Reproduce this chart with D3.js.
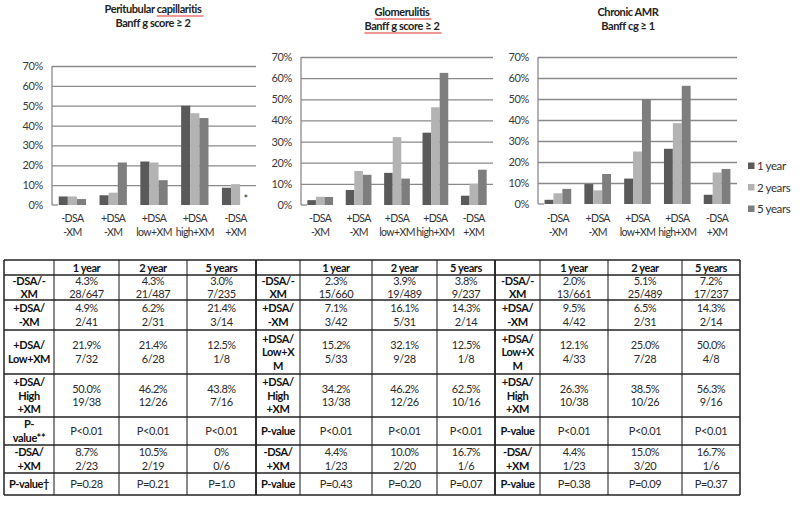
<!DOCTYPE html>
<html>
<head>
<meta charset="utf-8">
<script src="https://cdn.jsdelivr.net/npm/d3@7"></script>
<style>
  html, body { margin: 0; padding: 0; background: #fff; }
  svg { display: block; font-family: Lato, "Open Sans", sans-serif; letter-spacing: -0.4px; }
</style>
</head>
<body>
<svg id="chart" width="800" height="508"></svg>
<script>
// ---------- DATA ----------
const categories = [["-DSA", "-XM"], ["+DSA", "-XM"], ["+DSA", "low+XM"], ["+DSA", "high+XM"], ["-DSA", "+XM"]];
const seriesNames = ["1 year", "2 years", "5 years"];
const yTicks = [0, 10, 20, 30, 40, 50, 60, 70];

const ptc1yr = [4.3, 4.9, 21.9, 50.0, 8.7];
const ptc2yr = [4.3, 6.2, 21.4, 46.2, 10.5];
const ptc5yr = [3.0, 21.4, 12.5, 43.8, 0];

const glom1yr = [2.3, 7.1, 15.2, 34.2, 4.4];
const glom2yr = [3.9, 16.1, 32.1, 46.2, 10.0];
const glom5yr = [3.8, 14.3, 12.5, 62.5, 16.7];

const camr1yr = [2.0, 9.5, 12.1, 26.3, 4.4];
const camr2yr = [5.1, 6.5, 25.0, 38.5, 15.0];
const camr5yr = [7.2, 14.3, 50.0, 56.3, 16.7];

const chartTitles = [
  ["Peritubular capillaritis", "Banff g score \u2265 2"],
  ["Glomerulitis", "Banff g score \u2265 2"],
  ["Chronic AMR", "Banff cg \u2265 1"]
];

// Table
const tableHeader = ["1 year", "2 year", "5 years"];
const rowLabels1 = [["-DSA/-", "XM"], ["+DSA/", "-XM"], ["+DSA/", "Low+XM"], ["+DSA/", "High", "+XM"], ["P-", "value**"], ["-DSA/", "+XM"], ["P-value\u2020"]];
const rowLabels23 = [["-DSA/-", "XM"], ["+DSA/", "-XM"], ["+DSA/", "Low+X", "M"], ["+DSA/", "High", "+XM"], ["P-value"], ["-DSA/", "+XM"], ["P-value"]];

const ptcTable = [
  [["4.3%", "28/647"], ["4.3%", "21/487"], ["3.0%", "7/235"]],
  [["4.9%", "2/41"], ["6.2%", "2/31"], ["21.4%", "3/14"]],
  [["21.9%", "7/32"], ["21.4%", "6/28"], ["12.5%", "1/8"]],
  [["50.0%", "19/38"], ["46.2%", "12/26"], ["43.8%", "7/16"]],
  [["P<0.01"], ["P<0.01"], ["P<0.01"]],
  [["8.7%", "2/23"], ["10.5%", "2/19"], ["0%", "0/6"]],
  [["P=0.28"], ["P=0.21"], ["P=1.0"]]
];
const glomTable = [
  [["2.3%", "15/660"], ["3.9%", "19/489"], ["3.8%", "9/237"]],
  [["7.1%", "3/42"], ["16.1%", "5/31"], ["14.3%", "2/14"]],
  [["15.2%", "5/33"], ["32.1%", "9/28"], ["12.5%", "1/8"]],
  [["34.2%", "13/38"], ["46.2%", "12/26"], ["62.5%", "10/16"]],
  [["P<0.01"], ["P<0.01"], ["P<0.01"]],
  [["4.4%", "1/23"], ["10.0%", "2/20"], ["16.7%", "1/6"]],
  [["P=0.43"], ["P=0.20"], ["P=0.07"]]
];
const camrTable = [
  [["2.0%", "13/661"], ["5.1%", "25/489"], ["7.2%", "17/237"]],
  [["9.5%", "4/42"], ["6.5%", "2/31"], ["14.3%", "2/14"]],
  [["12.1%", "4/33"], ["25.0%", "7/28"], ["50.0%", "4/8"]],
  [["26.3%", "10/38"], ["38.5%", "10/26"], ["56.3%", "9/16"]],
  [["P<0.01"], ["P<0.01"], ["P<0.01"]],
  [["4.4%", "1/23"], ["15.0%", "3/20"], ["16.7%", "1/6"]],
  [["P=0.38"], ["P=0.09"], ["P=0.37"]]
];

// ---------- STYLE / LAYOUT ----------
const colors = d3.scaleOrdinal().domain(seriesNames).range(["#5a5a5a", "#b3b3b3", "#7e7e7e"]);
const svg = d3.select("#chart");
const FS = 11;

const charts = [
  { series: [ptc1yr, ptc2yr, ptc5yr], title: chartTitles[0], x0: 52, x1: 256, top: 66, bottom: 205, titleX: 153, titleY: 13, underline: [[1, "capillaritis"]], star: true },
  { series: [glom1yr, glom2yr, glom5yr], title: chartTitles[1], x0: 301, x1: 493, top: 57, bottom: 205, titleX: 402, titleY: 16, underline: [[1, null], [2, null]] },
  { series: [camr1yr, camr2yr, camr5yr], title: chartTitles[2], x0: 538, x1: 737, top: 57, bottom: 204, titleX: 628, titleY: 16, underline: [] }
];

charts.forEach(c => {
  const g = svg.append("g");
  const x = d3.scaleBand().domain(d3.range(categories.length)).range([c.x0, c.x1]).paddingInner(0.33).paddingOuter(0.165);
  const xs = d3.scaleBand().domain(seriesNames).range([0, x.bandwidth()]);
  const y = d3.scaleLinear().domain([0, 70]).range([c.bottom, c.top]);

  // gridlines
  const grid = g.append("g").attr("transform", `translate(${c.x0},0)`)
    .call(d3.axisLeft(y).tickValues(yTicks.filter(t => t > 0)).tickSize(-(c.x1 - c.x0)).tickFormat(""));
  grid.select(".domain").remove();
  grid.selectAll("line").attr("stroke", "#8a8a8a").attr("stroke-width", 1.3);

  // y axis line
  g.append("line").attr("x1", c.x0).attr("x2", c.x0).attr("y1", c.top).attr("y2", c.bottom)
    .attr("stroke", "#8a8a8a").attr("stroke-width", 1.3);
  g.append("line").attr("x1", c.x0).attr("x2", c.x0 + 6).attr("y1", c.bottom).attr("y2", c.bottom)
    .attr("stroke", "#8a8a8a").attr("stroke-width", 1.3);

  // y labels
  const yl = g.append("g").attr("transform", `translate(${c.x0 - 6},0)`)
    .call(d3.axisLeft(y).tickValues(yTicks).tickSize(0).tickFormat(d => d + "%"));
  yl.select(".domain").remove();
  yl.selectAll("text").attr("font-size", FS).attr("fill", "#3a3a3a")
    .attr("font-family", "Lato, sans-serif").style("letter-spacing", "-0.4px");

  // bars
  categories.forEach((cat, i) => {
    seriesNames.forEach((s, k) => {
      const v = c.series[k][i];
      g.append("rect")
        .attr("x", x(i) + xs(s))
        .attr("y", y(v))
        .attr("width", xs.bandwidth())
        .attr("height", c.bottom - y(v))
        .attr("fill", colors(s));
    });
    const t = g.append("text").attr("text-anchor", "middle").attr("font-size", 10.5).attr("fill", "#333")
      .style("letter-spacing", "-0.6px");
    t.append("tspan").attr("x", x(i) + x.bandwidth() / 2).attr("y", 222).text(cat[0]);
    t.append("tspan").attr("x", x(i) + x.bandwidth() / 2).attr("y", 236).text(cat[1]);
  });

  if (c.star) {
    const i = categories.length - 1;
    g.append("text").attr("x", x(i) + xs(seriesNames[2]) + xs.bandwidth() / 2 + 1).attr("y", c.bottom - 2)
      .attr("text-anchor", "middle").attr("font-size", 11).attr("fill", "#333").text("*");
  }

  // titles
  const titleTexts = c.title.map((line, li) =>
    g.append("text").attr("x", c.titleX).attr("y", c.titleY + li * 14)
      .attr("text-anchor", "middle").attr("font-size", FS).attr("font-weight", "bold").attr("fill", "#222")
      .text(line));
  c.underline.forEach(([li, word]) => {
    const node = titleTexts[li - 1].node();
    const full = node.getComputedTextLength();
    const start = c.titleX - full / 2;
    let sx = start, ex = start + full;
    if (word) {
      const idx = c.title[li - 1].indexOf(word);
      sx = start + node.getSubStringLength(0, idx);
      ex = sx + node.getSubStringLength(idx, word.length);
    }
    const yy = c.titleY + (li - 1) * 14 + 3;
    g.append("line").attr("x1", sx).attr("x2", ex + 2).attr("y1", yy).attr("y2", yy)
      .attr("stroke", "#e03030").attr("stroke-width", 1);
  });
});

// legend
const legend = svg.append("g");
seriesNames.forEach((s, k) => {
  const ly = 166 + k * 21.5;
  legend.append("rect").attr("x", 748).attr("y", ly - 3.5).attr("width", 6.5).attr("height", 6.5).attr("fill", colors(s));
  legend.append("text").attr("x", 757).attr("y", ly + 4).attr("font-size", 11.5).attr("fill", "#333").text(s);
});

// ---------- TABLE ----------
const rowsY = [260, 275, 300, 330, 374, 417, 445, 473, 495];
const blocks = [
  { cols: [4, 54, 119, 187, 256], labels: rowLabels1, data: ptcTable },
  { cols: [256, 300, 372, 437, 495], labels: rowLabels23, data: glomTable },
  { cols: [495, 540, 608, 682, 740], labels: rowLabels23, data: camrTable }
];
const tg = svg.append("g");
const lh = 13.5;
function cellText(lines, cx, y0, y1, bold, fill) {
  const n = lines.length;
  const mid = (y0 + y1) / 2;
  const t = tg.append("text").attr("text-anchor", "middle").attr("font-size", FS)
    .attr("font-weight", bold ? "bold" : "normal").attr("fill", fill);
  lines.forEach((l, i) => {
    t.append("tspan").attr("x", cx).attr("y", mid + (i - (n - 1) / 2) * lh + 4).text(l);
  });
}
blocks.forEach((b, bi) => {
  tableHeader.forEach((h, j) => {
    cellText([h], (b.cols[j + 1] + b.cols[j + 2]) / 2, rowsY[0], rowsY[1], true, "#111");
  });
  b.labels.forEach((lab, r) => {
    cellText(lab, (b.cols[0] + b.cols[1]) / 2, rowsY[r + 1], rowsY[r + 2], true, "#111");
    b.data[r].forEach((cell, j) => {
      cellText(cell, (b.cols[j + 1] + b.cols[j + 2]) / 2, rowsY[r + 1], rowsY[r + 2], false, "#2a2a2a");
    });
  });
  b.cols.forEach((cx, j) => {
    const edge = (j === 0 || j === b.cols.length - 1);
    tg.append("line").attr("x1", cx).attr("x2", cx).attr("y1", rowsY[0]).attr("y2", rowsY[rowsY.length - 1])
      .attr("stroke", edge ? "#222" : "#8a8a8a").attr("stroke-width", edge ? 1.5 : 2);
  });
  rowsY.forEach(ry => {
    tg.append("line").attr("x1", b.cols[0]).attr("x2", b.cols[b.cols.length - 1]).attr("y1", ry).attr("y2", ry)
      .attr("stroke", "#222").attr("stroke-width", 1.5);
  });
});
</script>
</body>
</html>
